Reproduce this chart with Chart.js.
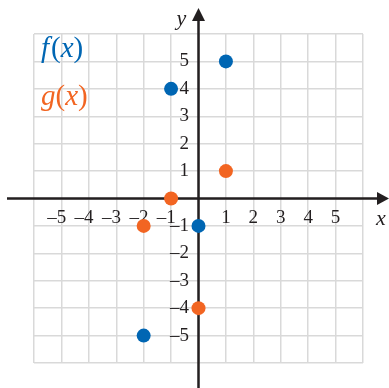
<!DOCTYPE html>
<html>
<head>
<meta charset="utf-8">
<script src="https://cdn.jsdelivr.net/npm/chart.js@4.4.1/dist/chart.umd.min.js"></script>
<style>
  html, body { margin: 0; padding: 0; background: #fff; }
  #wrap { width: 389px; height: 388px; }
</style>
</head>
<body>
<div id="wrap"><canvas id="grafico"></canvas></div>
<script>
// valores
const fX = [1, -1, 0, -2];
const fY = [5, 4, -1, -5];
const gX = [1, -1, -2, 0];
const gY = [1, 0, -1, -4];
const rotulos = ['f', 'g'];
const limite = 6;

const azul = '#0066b3';
const laranja = '#f26522';
const tinta = '#231f20';

function pares(xs, ys) {
  return xs.map((x, i) => ({ x: x, y: ys[i] }));
}

function rotuloTick(v) {
  if (v === 0 || Math.abs(v) === limite) return '';
  if (v < 0) return '\u2013' + Math.abs(v) + '\u2002';
  return String(v);
}

function rotuloTickY(v) {
  if (v === 0 || Math.abs(v) === limite) return '';
  if (v < 0) return '\u2013' + Math.abs(v) + '\u2002';
  return String(v) + '\u2002';
}

// eixos com setas, nomes dos eixos e legenda
const eixosPlugin = {
  id: 'eixos',
  beforeDatasetsDraw(chart) {
    const ctx = chart.ctx;
    const sx = chart.scales.x, sy = chart.scales.y;
    const x0 = sx.getPixelForValue(0);
    const y0 = sy.getPixelForValue(0);
    ctx.save();
    ctx.strokeStyle = tinta;
    ctx.fillStyle = tinta;
    ctx.lineWidth = 2.5;
    ctx.beginPath();
    ctx.moveTo(7, y0);
    ctx.lineTo(chart.width - 8, y0);
    ctx.moveTo(x0, chart.height);
    ctx.lineTo(x0, 18);
    ctx.stroke();
    // setas
    ctx.beginPath();
    ctx.moveTo(chart.width, y0);
    ctx.lineTo(chart.width - 12, y0 - 6.5);
    ctx.lineTo(chart.width - 12, y0 + 6.5);
    ctx.closePath();
    ctx.fill();
    ctx.beginPath();
    ctx.moveTo(x0, 8);
    ctx.lineTo(x0 - 6.5, 21);
    ctx.lineTo(x0 + 6.5, 21);
    ctx.closePath();
    ctx.fill();
    ctx.restore();
  },
  afterDraw(chart) {
    const ctx = chart.ctx;
    const sx = chart.scales.x, sy = chart.scales.y;
    const x0 = sx.getPixelForValue(0);
    const y0 = sy.getPixelForValue(0);
    ctx.save();
    ctx.textBaseline = 'middle';
    ctx.fillStyle = tinta;
    ctx.font = 'italic 22px "Liberation Serif"';
    ctx.textAlign = 'center';
    ctx.fillText('x', chart.width - 8, y0 + 21);
    ctx.fillText('y', x0 - 17, 19);

    // legenda: f(x) e g(x)
    const cores = [azul, laranja];
    const ys = [49, 97];
    rotulos.forEach((nome, i) => {
      let x = 41;
      const partes = [[nome, true], ['(', false], ['x', true], [')', false]];
      ctx.fillStyle = cores[i];
      ctx.textAlign = 'left';
      partes.forEach(([t, it]) => {
        ctx.font = (it ? 'italic ' : '') + '29px "Liberation Serif"';
        ctx.fillText(t, x, ys[i]);
        x += ctx.measureText(t).width + (t === 'f' ? 2 : 0);
      });
    });
    ctx.restore();
  }
};

const grafico = new Chart(document.getElementById('grafico'), {
  type: 'scatter',
  data: {
    datasets: [{
      label: 'f(x)',
      data: pares(fX, fY),
      backgroundColor: azul,
      borderWidth: 0,
      pointRadius: 7
    }, {
      label: 'g(x)',
      data: pares(gX, gY),
      backgroundColor: laranja,
      borderWidth: 0,
      pointRadius: 7
    }]
  },
  options: {
    responsive: true,
    maintainAspectRatio: false,
    animation: false,
    layout: { padding: { left: 34, right: 26, top: 34, bottom: 25 } },
    plugins: { legend: { display: false }, tooltip: { enabled: false } },
    scales: {
      x: {
        type: 'linear',
        position: { y: 0 },
        min: -limite,
        max: limite,
        border: { display: false },
        grid: { color: '#d9d9d9', lineWidth: 1.5, drawTicks: false },
        ticks: {
          stepSize: 1,
          autoSkip: false,
          maxRotation: 0,
          padding: 8,
          color: tinta,
          font: { family: 'Liberation Serif', size: 19 },
          callback: rotuloTick
        }
      },
      y: {
        type: 'linear',
        position: { x: 0 },
        min: -limite,
        max: limite,
        border: { display: false },
        grid: { color: '#d9d9d9', lineWidth: 1.5, drawTicks: false },
        ticks: {
          stepSize: 1,
          autoSkip: false,
          padding: 9,
          color: tinta,
          font: { family: 'Liberation Serif', size: 19 },
          callback: rotuloTickY
        }
      }
    }
  },
  plugins: [eixosPlugin]
});
</script>
</body>
</html>
